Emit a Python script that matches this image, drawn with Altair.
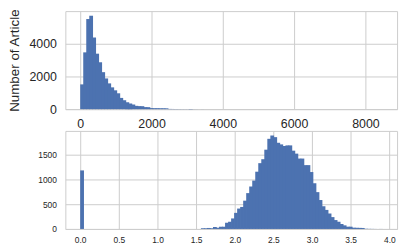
import altair as alt
import pandas as pd

# ---- top histogram (article length) ----
top_bin_width = 84.6
top_counts_head = [1515, 3475, 5515, 5717, 4384, 3394, 2869, 2263, 1879, 1576,
                   1333, 1152, 970, 687, 545, 424, 343, 283, 202, 185,
                   180, 125, 120, 65, 60, 60, 55, 55, 50]
top_tail_bins = [29, 30, 31, 32, 33, 34, 35, 36, 37, 38, 40, 42, 45, 49, 55, 62, 99]
top_tail_counts = [14, 11, 9, 7, 6, 5, 4, 3, 3, 2, 2, 1, 1, 1, 1, 1, 1]
top_x_ticks = [0, 2000, 4000, 6000, 8000]
top_y_ticks = [0, 2000, 4000]

# ---- bottom histogram ----
bot_bin_width = 0.03905
bot_bins = [0] + list(range(40, 98)) + [99]
bot_counts = [1186,
              15, 15, 20, 15, 40, 25, 45, 45, 126, 146,
              213, 326, 413, 446, 573, 726, 860, 980, 1160, 1333,
              1413, 1606, 1826, 1893, 1860, 1746, 1713, 1680, 1693, 1693,
              1586, 1526, 1426, 1426, 1293, 1293, 1153, 926, 746, 586,
              460, 386, 313, 240, 180, 146, 100, 73, 46, 46,
              26, 24, 22, 20, 5, 3, 2, 1,
              1]
bot_x_ticks = [0.0, 0.5, 1.0, 1.5, 2.0, 2.5, 3.0, 3.5, 4.0]
bot_y_ticks = [0, 500, 1000, 1500]

# bars overlap their neighbour by a hair so no anti-aliasing seams show
OVERLAP = 0.25

top_bins = list(range(len(top_counts_head))) + top_tail_bins
top_counts = top_counts_head + top_tail_counts
top_df = pd.DataFrame({
    "start": [b * top_bin_width for b in top_bins],
    "end": [(b + 1 + OVERLAP) * top_bin_width for b in top_bins],
    "count": top_counts,
})
top_df["base"] = 0
bot_df = pd.DataFrame({
    "start": [b * bot_bin_width for b in bot_bins],
    "end": [(b + 1 + OVERLAP) * bot_bin_width for b in bot_bins],
    "count": bot_counts,
})
bot_df["base"] = 0

FONT = "Liberation Sans"
TXT = "#262626"
GRID = "#cccccc"
BAR = "#4c72b0"

def axis(values, size, pad, fmt=None, title=None, tsize=13.5):
    kw = dict(values=values, grid=True, gridColor=GRID, gridWidth=1,
              domain=False, ticks=False, labelFont=FONT, labelFontSize=size,
              labelColor=TXT, labelPadding=pad, titleFont=FONT,
              titleFontSize=tsize, titleFontWeight="normal", titleColor=TXT)
    if fmt is not None:
        kw["format"] = fmt
    if title is not None:
        kw["title"] = title
        kw["titlePadding"] = 7
    else:
        kw["title"] = None
    return alt.Axis(**kw)

top = alt.Chart(top_df).mark_rect(color=BAR, strokeWidth=0).encode(
    x=alt.X("start:Q", scale=alt.Scale(domain=[-417, 8889], nice=False, zero=False),
            axis=axis(top_x_ticks, 12.5, 9, fmt="d")),
    x2="end:Q",
    y=alt.Y("count:Q", scale=alt.Scale(domain=[0, 6000], nice=False),
            axis=axis(top_y_ticks, 12.5, 9, fmt="d", title="Number of Article")),
    y2="base:Q",
).properties(width=335, height=99)

bottom = alt.Chart(bot_df).mark_rect(color=BAR, strokeWidth=0).encode(
    x=alt.X("start:Q", scale=alt.Scale(domain=[-0.192, 4.10], nice=False, zero=False),
            axis=axis(bot_x_ticks, 8.5, 7, fmt=".1f")),
    x2="end:Q",
    y=alt.Y("count:Q", scale=alt.Scale(domain=[0, 1986], nice=False),
            axis=axis(bot_y_ticks, 8.5, 9, fmt="d")),
    y2="base:Q",
).properties(width=335, height=99)

chart = alt.vconcat(top, bottom, spacing=-2).properties(
    padding={"left": 7, "top": 6, "right": 7, "bottom": 0},
    background="white",
).configure_view(stroke=GRID, strokeWidth=1)

chart.save("out.html", embed_options={"renderer": "svg", "actions": False})
